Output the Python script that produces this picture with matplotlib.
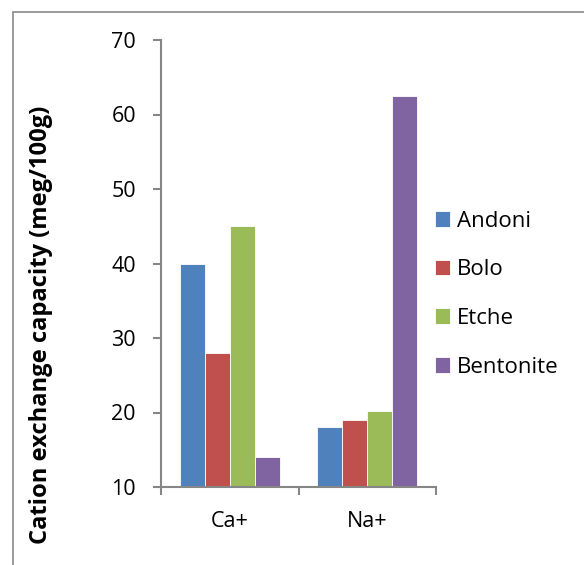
import matplotlib
matplotlib.use("Agg")
import matplotlib.pyplot as plt
import numpy as np
from matplotlib.patches import Rectangle

categories = ["Ca+", "Na+"]
series_names = ["Andoni", "Bolo", "Etche", "Bentonite"]
andoni = [40, 18]
bolo = [28, 19]
etche = [45, 20.2]
bentonite = [14, 62.5]
y_ticks = [10, 20, 30, 40, 50, 60, 70]
y_label = "Cation exchange capacity (meg/100g)"

colors = ["#4F81BD", "#C0504D", "#9BBB59", "#8064A2"]
values = [andoni, bolo, etche, bentonite]

plt.rcParams["font.family"] = ["Open Sans", "DejaVu Sans"]

fig = plt.figure(figsize=(5.84, 5.65), dpi=100)
fig.patch.set_facecolor("white")

# outer chart frame
W, H = 584, 565
fig.add_artist(Rectangle((13 / W, -0.1), 1.2, (H - 12) / H + 0.1,
                         transform=fig.transFigure, fill=False,
                         edgecolor="#8a8a8a", linewidth=1.2))

ax = fig.add_axes([161 / W, 1 - 487 / H, (436 - 161) / W, (487 - 40) / H])

n = len(series_names)
bar_w = 1 / (n + 1.5)
x = np.arange(len(categories))
for i, (name, vals, c) in enumerate(zip(series_names, values, colors)):
    offs = (i - (n - 1) / 2) * bar_w
    ax.bar(x + offs, np.array(vals) - 10, bottom=10, width=bar_w, color=c,
           edgecolor="white", linewidth=0.6, label=name)

ax.set_xlim(-0.5, len(categories) - 0.5)
ax.set_ylim(10, 70)
ax.set_yticks(y_ticks)
ax.set_yticklabels([str(t) for t in y_ticks], fontsize=15.5)

ax.set_xticks(np.arange(len(categories) + 1) - 0.5)
ax.set_xticklabels([])
ax.set_xticks(x, minor=True)
ax.set_xticklabels(categories, minor=True, fontsize=15.5)
ax.tick_params(axis="x", which="minor", length=0, pad=17)
ax.tick_params(axis="x", which="major", length=6, width=1.5, color="#868686", direction="out")
ax.tick_params(axis="y", length=6, width=1.5, color="#868686", direction="out", pad=12)

for s in ["top", "right"]:
    ax.spines[s].set_visible(False)
for s in ["left", "bottom"]:
    ax.spines[s].set_color("#868686")
    ax.spines[s].set_linewidth(1.5)

# rotated axis title, sized so it spans the chart height
lab = fig.text(41 / W, 1 - 325 / H, y_label, rotation=90, ha="center", va="center",
               fontsize=14, fontweight="bold")
fig.canvas.draw()
ext = lab.get_window_extent().height
lab.set_fontsize(14 * 440 / ext)

handles, labels = ax.get_legend_handles_labels()
leg = fig.legend(handles, labels, loc="upper left",
                 bbox_to_anchor=(426 / W, 1 - 202 / H), frameon=False,
                 fontsize=16, handlelength=0.7, handleheight=0.7,
                 handletextpad=0.3, labelspacing=1.24, borderaxespad=0)

fig.savefig("out.png", dpi=100, facecolor="white")
